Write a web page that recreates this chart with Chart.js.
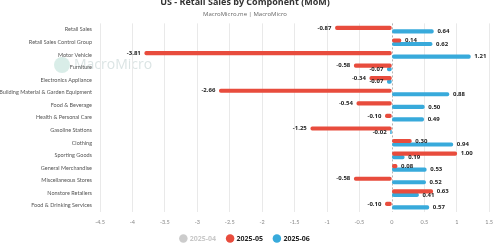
<!DOCTYPE html>
<html>
<head>
<meta charset="utf-8">
<script src="https://cdn.jsdelivr.net/npm/chart.js@4"></script>
<style>
  html, body { margin: 0; padding: 0; background: #fff; overflow: hidden; }
  #wrap { position: relative; top: -3px; width: 500px; height: 255px; }
</style>
</head>
<body>
<div id="wrap"><canvas id="retailChart"></canvas></div>
<script>
'use strict';

// --- data ---
const categories = [
  'Retail Sales', 'Retail Sales Control Group', 'Motor Vehicle', 'Furniture',
  'Electronics Appliance', 'Building Material & Garden Equipment', 'Food & Beverage',
  'Health & Personal Care', 'Gasoline Stations', 'Clothing', 'Sporting Goods',
  'General Merchandise', 'Miscellaneous Stores', 'Nonstore Retailers', 'Food & Drinking Services',
];
const seriesNames = ['2025-04', '2025-05', '2025-06'];
const apr = [];  // hidden in the reference
const may = [-0.87, 0.14, -3.81, -0.58, -0.34, -2.66, -0.54, -0.10, -1.25, 0.30, 1.00, 0.08, -0.58, 0.63, -0.10];
const jun = [0.64, 0.62, 1.21, -0.07, -0.07, 0.88, 0.50, 0.49, -0.02, 0.94, 0.19, 0.53, 0.52, 0.41, 0.57];
const xTicks = [-4.5, -4, -3.5, -3, -2.5, -2, -1.5, -1, -0.5, 0, 0.5, 1, 1.5];

const FONT = "'Open Sans', 'Noto Sans', sans-serif";
const AXIS_FONT = "Lato, 'Open Sans', sans-serif";
const RED = '#e84c3d';
const BLUE = '#38aadb';

// watermark + dashed zero line
const backdrop = {
  id: 'backdrop',
  beforeDatasetsDraw(chart) {
    const { ctx, chartArea, scales } = chart;
    const x0 = Math.round(scales.x.getPixelForValue(0)) + 0.5;
    ctx.save();
    ctx.strokeStyle = '#b5b5b5';
    ctx.lineWidth = 1;
    ctx.setLineDash([2, 2]);
    ctx.beginPath();
    ctx.moveTo(x0, chartArea.top);
    ctx.lineTo(x0, chartArea.bottom);
    ctx.stroke();
    ctx.restore();
  },
  beforeDraw(chart) {
    const { ctx } = chart;
    ctx.save();
    ctx.fillStyle = 'rgba(170,215,205,0.45)';
    ctx.beginPath();
    ctx.arc(62, 68, 8, 0, Math.PI * 2);
    ctx.fill();
    ctx.fillStyle = 'rgba(190,205,205,0.55)';
    ctx.font = '14px ' + FONT;
    ctx.textBaseline = 'middle';
    ctx.fillText('MacroMicro', 74, 68);
    ctx.restore();
  },
};

// value labels at bar ends
const valueLabels = {
  id: 'valueLabels',
  afterDatasetsDraw(chart) {
    const { ctx } = chart;
    ctx.save();
    ctx.font = 'bold 6px ' + FONT;
    ctx.fillStyle = '#222';
    ctx.textBaseline = 'middle';
    chart.data.datasets.forEach((ds, i) => {
      if (!chart.isDatasetVisible(i)) return;
      chart.getDatasetMeta(i).data.forEach((bar, j) => {
        const v = ds.data[j];
        if (v == null) return;
        const neg = v < 0;
        ctx.textAlign = neg ? 'right' : 'left';
        ctx.fillText(v.toFixed(2), bar.x + (neg ? -4 : 4), bar.y);
      });
    });
    ctx.restore();
  },
};

new Chart(document.getElementById('retailChart').getContext('2d'), {
  type: 'bar',
  data: {
    labels: categories,
    datasets: [
      { label: seriesNames[0], data: apr, backgroundColor: '#c8c8c8', hidden: true },
      { label: seriesNames[1], data: may, backgroundColor: RED, barThickness: 3.5, borderRadius: 2, borderSkipped: false },
      { label: seriesNames[2], data: jun, backgroundColor: BLUE, barThickness: 3.5, borderRadius: 2, borderSkipped: false },
    ],
  },
  options: {
    responsive: true,
    maintainAspectRatio: false,
    animation: false,
    indexAxis: 'y',
    datasets: { bar: { categoryPercentage: 0.64 } },
    layout: { padding: { left: 0, right: 10, bottom: 0 } },
    plugins: {
      title: {
        display: true,
        text: 'US - Retail Sales by Component (MoM)',
        color: '#333',
        font: { family: FONT, size: 9, weight: 'bold' },
        padding: { top: 0, bottom: 2.6 },
      },
      subtitle: {
        display: true,
        text: 'MacroMicro.me | MacroMicro',
        color: '#666',
        font: { family: FONT, size: 6 },
        padding: { top: 0, bottom: 5.8 },
      },
      legend: {
        position: 'bottom',
        labels: {
          usePointStyle: true,
          pointStyle: 'circle',
          boxWidth: 6,
          boxHeight: 6,
          padding: 11,
          font: { family: FONT, size: 7, weight: 'bold' },
          generateLabels(chart) {
            return chart.data.datasets.map((ds, i) => {
              const visible = chart.isDatasetVisible(i);
              return {
                text: ds.label,
                fillStyle: visible ? ds.backgroundColor : '#cccccc',
                strokeStyle: visible ? ds.backgroundColor : '#cccccc',
                fontColor: visible ? '#222' : '#c8c8c8',
                lineWidth: 0,
                pointStyle: 'circle',
                hidden: false,
                datasetIndex: i,
              };
            });
          },
        },
      },
      tooltip: { enabled: false },
    },
    scales: {
      x: {
        min: xTicks[0],
        max: xTicks[xTicks.length - 1],
        afterBuildTicks: s => { s.ticks = xTicks.map(v => ({ value: v })); },
        afterFit: s => { s.height = Math.max(s.height - 8.5, 10); },
        grid: {
          color: c => (c.tick && c.tick.value === 0 ? 'rgba(0,0,0,0)' : '#e9e9e9'),
          drawTicks: false,
        },
        border: { display: false },
        ticks: {
          color: '#888',
          padding: 7,
          font: { family: AXIS_FONT, size: 5.5 },
          callback: v => String(v),
        },
      },
      y: {
        afterFit: s => { s.width = 100; },
        grid: { display: false, drawTicks: false },
        border: { display: false },
        ticks: {
          color: '#555',
          padding: 8,
          autoSkip: false,
          font: { family: AXIS_FONT, size: 5.5 },
        },
      },
    },
  },
  plugins: [backdrop, valueLabels],
});
</script>
</body>
</html>
